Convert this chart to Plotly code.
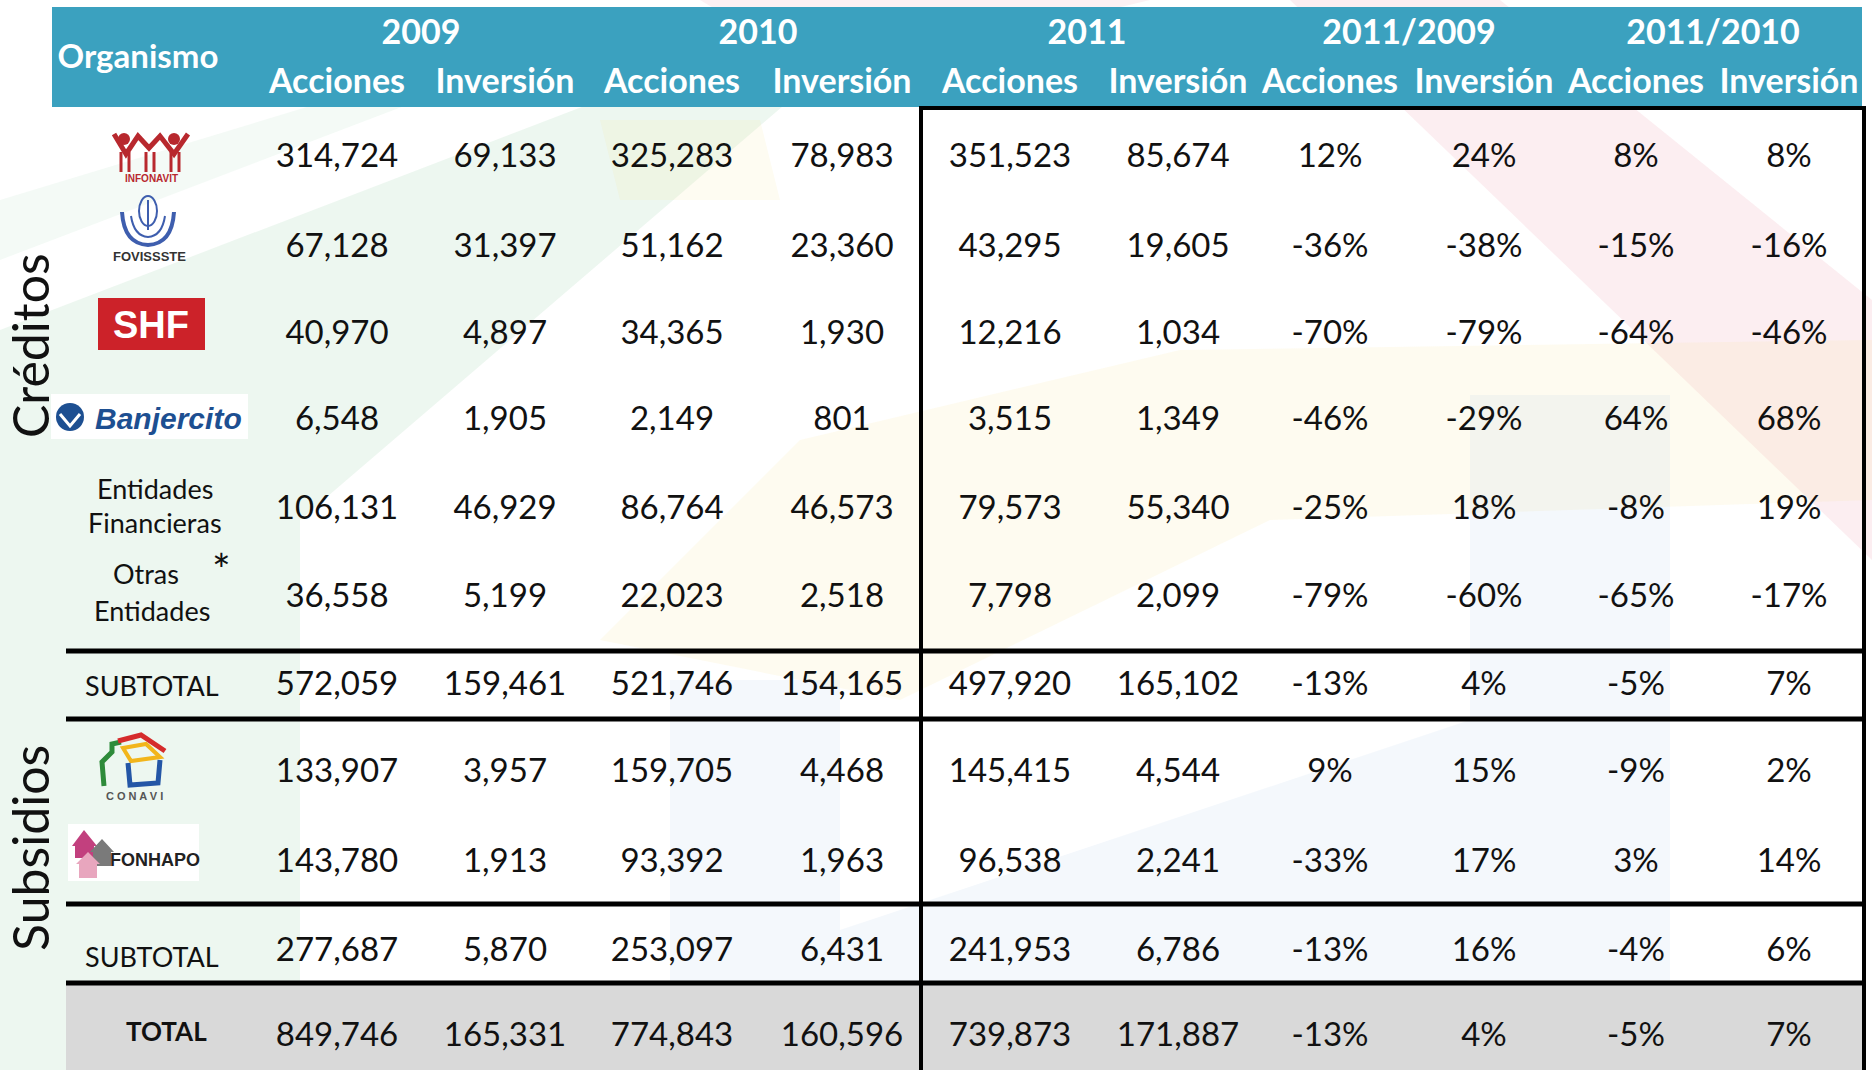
import plotly.graph_objects as go

# ---------------- DATA ----------------
organismos = ["INFONAVIT", "FOVISSSTE", "SHF", "Banjercito", "Entidades Financieras",
              "Otras Entidades", "SUBTOTAL", "CONAVI", "FONHAPO", "SUBTOTAL", "TOTAL"]
acciones_2009 = [314724, 67128, 40970, 6548, 106131, 36558, 572059, 133907, 143780, 277687, 849746]
inversion_2009 = [69133, 31397, 4897, 1905, 46929, 5199, 159461, 3957, 1913, 5870, 165331]
acciones_2010 = [325283, 51162, 34365, 2149, 86764, 22023, 521746, 159705, 93392, 253097, 774843]
inversion_2010 = [78983, 23360, 1930, 801, 46573, 2518, 154165, 4468, 1963, 6431, 160596]
acciones_2011 = [351523, 43295, 12216, 3515, 79573, 7798, 497920, 145415, 96538, 241953, 739873]
inversion_2011 = [85674, 19605, 1034, 1349, 55340, 2099, 165102, 4544, 2241, 6786, 171887]
var_acc_2011_2009 = [12, -36, -70, -46, -25, -79, -13, 9, -33, -13, -13]
var_inv_2011_2009 = [24, -38, -79, -29, 18, -60, 4, 15, 17, 16, 4]
var_acc_2011_2010 = [8, -15, -64, 64, -8, -65, -5, -9, 3, -4, -5]
var_inv_2011_2010 = [8, -16, -46, 68, 19, -17, 7, 2, 14, 6, 7]

year_groups = ["2009", "2010", "2011", "2011/2009", "2011/2010"]
sub_headers = ["Acciones", "Inversión"] * 5
section_labels = ["Créditos", "Subsidios"]

# ---------------- LAYOUT GEOMETRY ----------------
W, H = 1872, 1070
row_y = [159, 249, 336, 422, 511, 599, 687, 774, 864, 953, 1038]
col_x = [337, 505, 672, 842, 1010, 1178, 1330, 1484, 1636, 1789]
group_x = [421, 758, 1087, 1409, 1713]
FONT = "Lato, 'Open Sans', sans-serif"

columns = [
    [f"{v:,}" for v in acciones_2009],
    [f"{v:,}" for v in inversion_2009],
    [f"{v:,}" for v in acciones_2010],
    [f"{v:,}" for v in inversion_2010],
    [f"{v:,}" for v in acciones_2011],
    [f"{v:,}" for v in inversion_2011],
    [f"{v}%" for v in var_acc_2011_2009],
    [f"{v}%" for v in var_inv_2011_2009],
    [f"{v}%" for v in var_acc_2011_2010],
    [f"{v}%" for v in var_inv_2011_2010],
]

fig = go.Figure()

for cx, texts in zip(col_x, columns):
    fig.add_trace(go.Scatter(
        x=[cx] * len(texts), y=row_y, text=texts, mode="text",
        textposition="middle center", hoverinfo="skip", showlegend=False,
        textfont=dict(family=FONT, size=33, color="#111111")))

# header texts
fig.add_trace(go.Scatter(
    x=group_x, y=[35] * len(group_x), text=year_groups, mode="text",
    textposition="middle center", hoverinfo="skip", showlegend=False,
    textfont=dict(family=FONT, size=34, color="white", weight="bold")))
fig.add_trace(go.Scatter(
    x=col_x, y=[84] * len(col_x), text=sub_headers, mode="text",
    textposition="middle center", hoverinfo="skip", showlegend=False,
    textfont=dict(family=FONT, size=34, color="white", weight="bold")))
fig.add_trace(go.Scatter(
    x=[138], y=[60], text=["Organismo"], mode="text",
    textposition="middle center", hoverinfo="skip", showlegend=False,
    textfont=dict(family=FONT, size=33, color="white", weight="bold")))

shapes = []
annotations = []

# ---------------- WATERMARK ----------------
def poly(pts, color):
    d = "M" + " L".join(f"{x},{y}" for x, y in pts) + " Z"
    shapes.append(dict(type="path", path=d, fillcolor=color, line=dict(width=0),
                       layer="below", xref="x", yref="y"))

poly([(0, 330), (600, 100), (790, 100), (300, 520), (300, 1070), (0, 1070)], "rgba(150,205,165,0.17)")
poly([(330, 100), (420, 100), (0, 260), (0, 200)], "rgba(150,205,165,0.10)")
poly([(1290, 0), (1500, 0), (1872, 300), (1872, 560)], "rgba(235,140,160,0.15)")
poly([(700, 0), (1150, 0), (1100, 12), (720, 12)], "rgba(235,140,160,0.12)")
poly([(600, 640), (800, 440), (1180, 350), (1872, 340), (1872, 500), (1270, 520), (900, 700)],
     "rgba(245,230,150,0.14)")
poly([(600, 120), (760, 120), (780, 200), (620, 200)], "rgba(245,230,150,0.12)")
poly([(670, 680), (840, 680), (840, 1070), (670, 1070)], "rgba(150,185,225,0.10)")
poly([(1470, 395), (1670, 395), (1670, 980), (1470, 980)], "rgba(150,185,225,0.10)")
poly([(840, 930), (1470, 720), (1470, 980), (1100, 1070), (840, 1070)], "rgba(150,185,225,0.10)")

# ---------------- TABLE FRAME ----------------
shapes.append(dict(type="rect", x0=52, x1=1862, y0=7, y1=107,
                   fillcolor="#3BA1BF", line=dict(width=0), layer="below"))
shapes.append(dict(type="rect", x0=66, x1=1864, y0=983, y1=1070,
                   fillcolor="#D9D9D9", line=dict(width=0), layer="below"))
for yl in [651, 719, 904, 983]:
    shapes.append(dict(type="line", x0=66, x1=1866, y0=yl, y1=yl,
                       line=dict(color="black", width=5)))
shapes.append(dict(type="line", x0=921, x1=921, y0=107, y1=1070, line=dict(color="black", width=4)))
shapes.append(dict(type="line", x0=919, x1=1866, y0=108, y1=108, line=dict(color="black", width=4)))
shapes.append(dict(type="line", x0=1864, x1=1864, y0=107, y1=1070, line=dict(color="black", width=4)))

# ---------------- LOGOS ----------------
red = "#B8282E"
# INFONAVIT
for hx in [124, 174]:
    shapes.append(dict(type="circle", x0=hx - 6, x1=hx + 6, y0=133, y1=145,
                       fillcolor=red, line=dict(width=0)))
shapes.append(dict(type="path", path="M114,134 L126,154 L138,136 L149,148 L160,136 L174,154 L188,134",
                   line=dict(color=red, width=5)))
for lx in [121, 129, 146, 154, 171, 179]:
    shapes.append(dict(type="line", x0=lx, x1=lx, y0=152, y1=172, line=dict(color=red, width=3)))
annotations.append(dict(x=151, y=178, text="<b>INFONAVIT</b>", showarrow=False,
                        font=dict(family="Liberation Sans, Arial", size=10, color=red)))

# FOVISSSTE
blue_f = "#3E5EAE"
shapes.append(dict(type="path", path="M122,212 Q124,244 148,245 Q172,244 174,212",
                   line=dict(color=blue_f, width=4)))
shapes.append(dict(type="path", path="M131,216 Q134,236 148,237 Q162,236 165,216",
                   line=dict(color=blue_f, width=2)))
shapes.append(dict(type="circle", x0=139, x1=157, y0=196, y1=226,
                   line=dict(color=blue_f, width=2)))
shapes.append(dict(type="line", x0=148, x1=148, y0=200, y1=230, line=dict(color=blue_f, width=2)))
annotations.append(dict(x=149, y=256, text="<b>FOVISSSTE</b>", showarrow=False,
                        font=dict(family="Liberation Sans, Arial", size=13, color="#333333")))

# SHF
shapes.append(dict(type="rect", x0=98, x1=205, y0=298, y1=350, fillcolor="#CC2229", line=dict(width=0)))
annotations.append(dict(x=151, y=325, text="<b>SHF</b>", showarrow=False,
                        font=dict(family="Liberation Sans, Arial", size=38, color="white")))

# Banjercito
ban_blue = "#1D4F91"
shapes.append(dict(type="rect", x0=51, x1=248, y0=394, y1=439, fillcolor="white", line=dict(width=0)))
shapes.append(dict(type="circle", x0=56, x1=84, y0=403, y1=431, fillcolor=ban_blue, line=dict(width=0)))
shapes.append(dict(type="path", path="M60,414 L70,426 L80,414", line=dict(color="white", width=3)))
annotations.append(dict(x=168, y=418, text="<b><i>Banjercito</i></b>", showarrow=False,
                        font=dict(family="Liberation Sans, Arial", size=30, color=ban_blue)))

# CONAVI
shapes.append(dict(type="path", path="M104,786 L102,762 L112,752 L112,744 L121,742",
                   line=dict(color="#2E8B3A", width=5)))
shapes.append(dict(type="path", path="M118,741 L141,735 L165,751", line=dict(color="#D52B2B", width=5)))
shapes.append(dict(type="path", path="M123,748 L146,744 L160,757 L131,761 Z", line=dict(color="#F2B51B", width=4)))
shapes.append(dict(type="path", path="M128,763 L130,785 L158,783 L160,760", line=dict(color="#2456A6", width=5)))
annotations.append(dict(x=134, y=796, text="<b>C O N A V I</b>", showarrow=False,
                        font=dict(family="Liberation Sans, Arial", size=11, color="#555555")))

# FONHAPO
shapes.append(dict(type="rect", x0=68, x1=199, y0=824, y1=881, fillcolor="white", line=dict(width=0)))
shapes.append(dict(type="path", path="M72,846 L84,830 L97,846 L94,846 L94,858 L75,858 L75,846 Z",
                   fillcolor="#C2407E", line=dict(width=0)))
shapes.append(dict(type="path", path="M90,852 L102,839 L114,852 L111,852 L111,866 L93,866 L93,852 Z",
                   fillcolor="#7A7A7A", line=dict(width=0)))
shapes.append(dict(type="path", path="M76,864 L88,852 L100,864 L97,864 L97,878 L79,878 L79,864 Z",
                   fillcolor="#E8A6BE", line=dict(width=0)))
annotations.append(dict(x=155, y=860, text="<b>FONHAPO</b>", showarrow=False,
                        font=dict(family="Liberation Sans, Arial", size=18, color="#222222")))

# ---------------- ROW LABELS ----------------
lab_font = dict(family=FONT, size=27, color="#111111")
annotations += [
    dict(x=155, y=488, text="Entidades", showarrow=False, font=lab_font),
    dict(x=155, y=522, text="Financieras", showarrow=False, font=lab_font),
    dict(x=146, y=573, text="Otras", showarrow=False, font=lab_font),
    dict(x=221, y=569, text="*", showarrow=False, font=dict(family=FONT, size=44, color="#111111")),
    dict(x=152, y=610, text="Entidades", showarrow=False, font=lab_font),
    dict(x=152, y=685, text="SUBTOTAL", showarrow=False, font=lab_font),
    dict(x=152, y=956, text="SUBTOTAL", showarrow=False, font=lab_font),
    dict(x=166, y=1031, text="<b>TOTAL</b>", showarrow=False,
         font=dict(family=FONT, size=26, color="#111111")),
]
for lab, yc in zip(section_labels, [346, 848]):
    annotations.append(dict(x=30, y=yc, text=lab, textangle=-90, showarrow=False,
                            font=dict(family=FONT, size=50, color="#111111")))

for a in annotations:
    a.setdefault("xref", "x")
    a.setdefault("yref", "y")
    a.setdefault("xanchor", "center")
    a.setdefault("yanchor", "middle")

fig.update_layout(
    width=W, height=H, margin=dict(l=0, r=0, t=0, b=0),
    paper_bgcolor="white", plot_bgcolor="white",
    shapes=shapes, annotations=annotations, showlegend=False,
    xaxis=dict(range=[0, W], visible=False, fixedrange=True),
    yaxis=dict(range=[H, 0], visible=False, fixedrange=True),
)

fig.write_html("out.html", config={"displayModeBar": False},
               post_script="document.body.style.margin='0';document.body.style.overflow='hidden';")
